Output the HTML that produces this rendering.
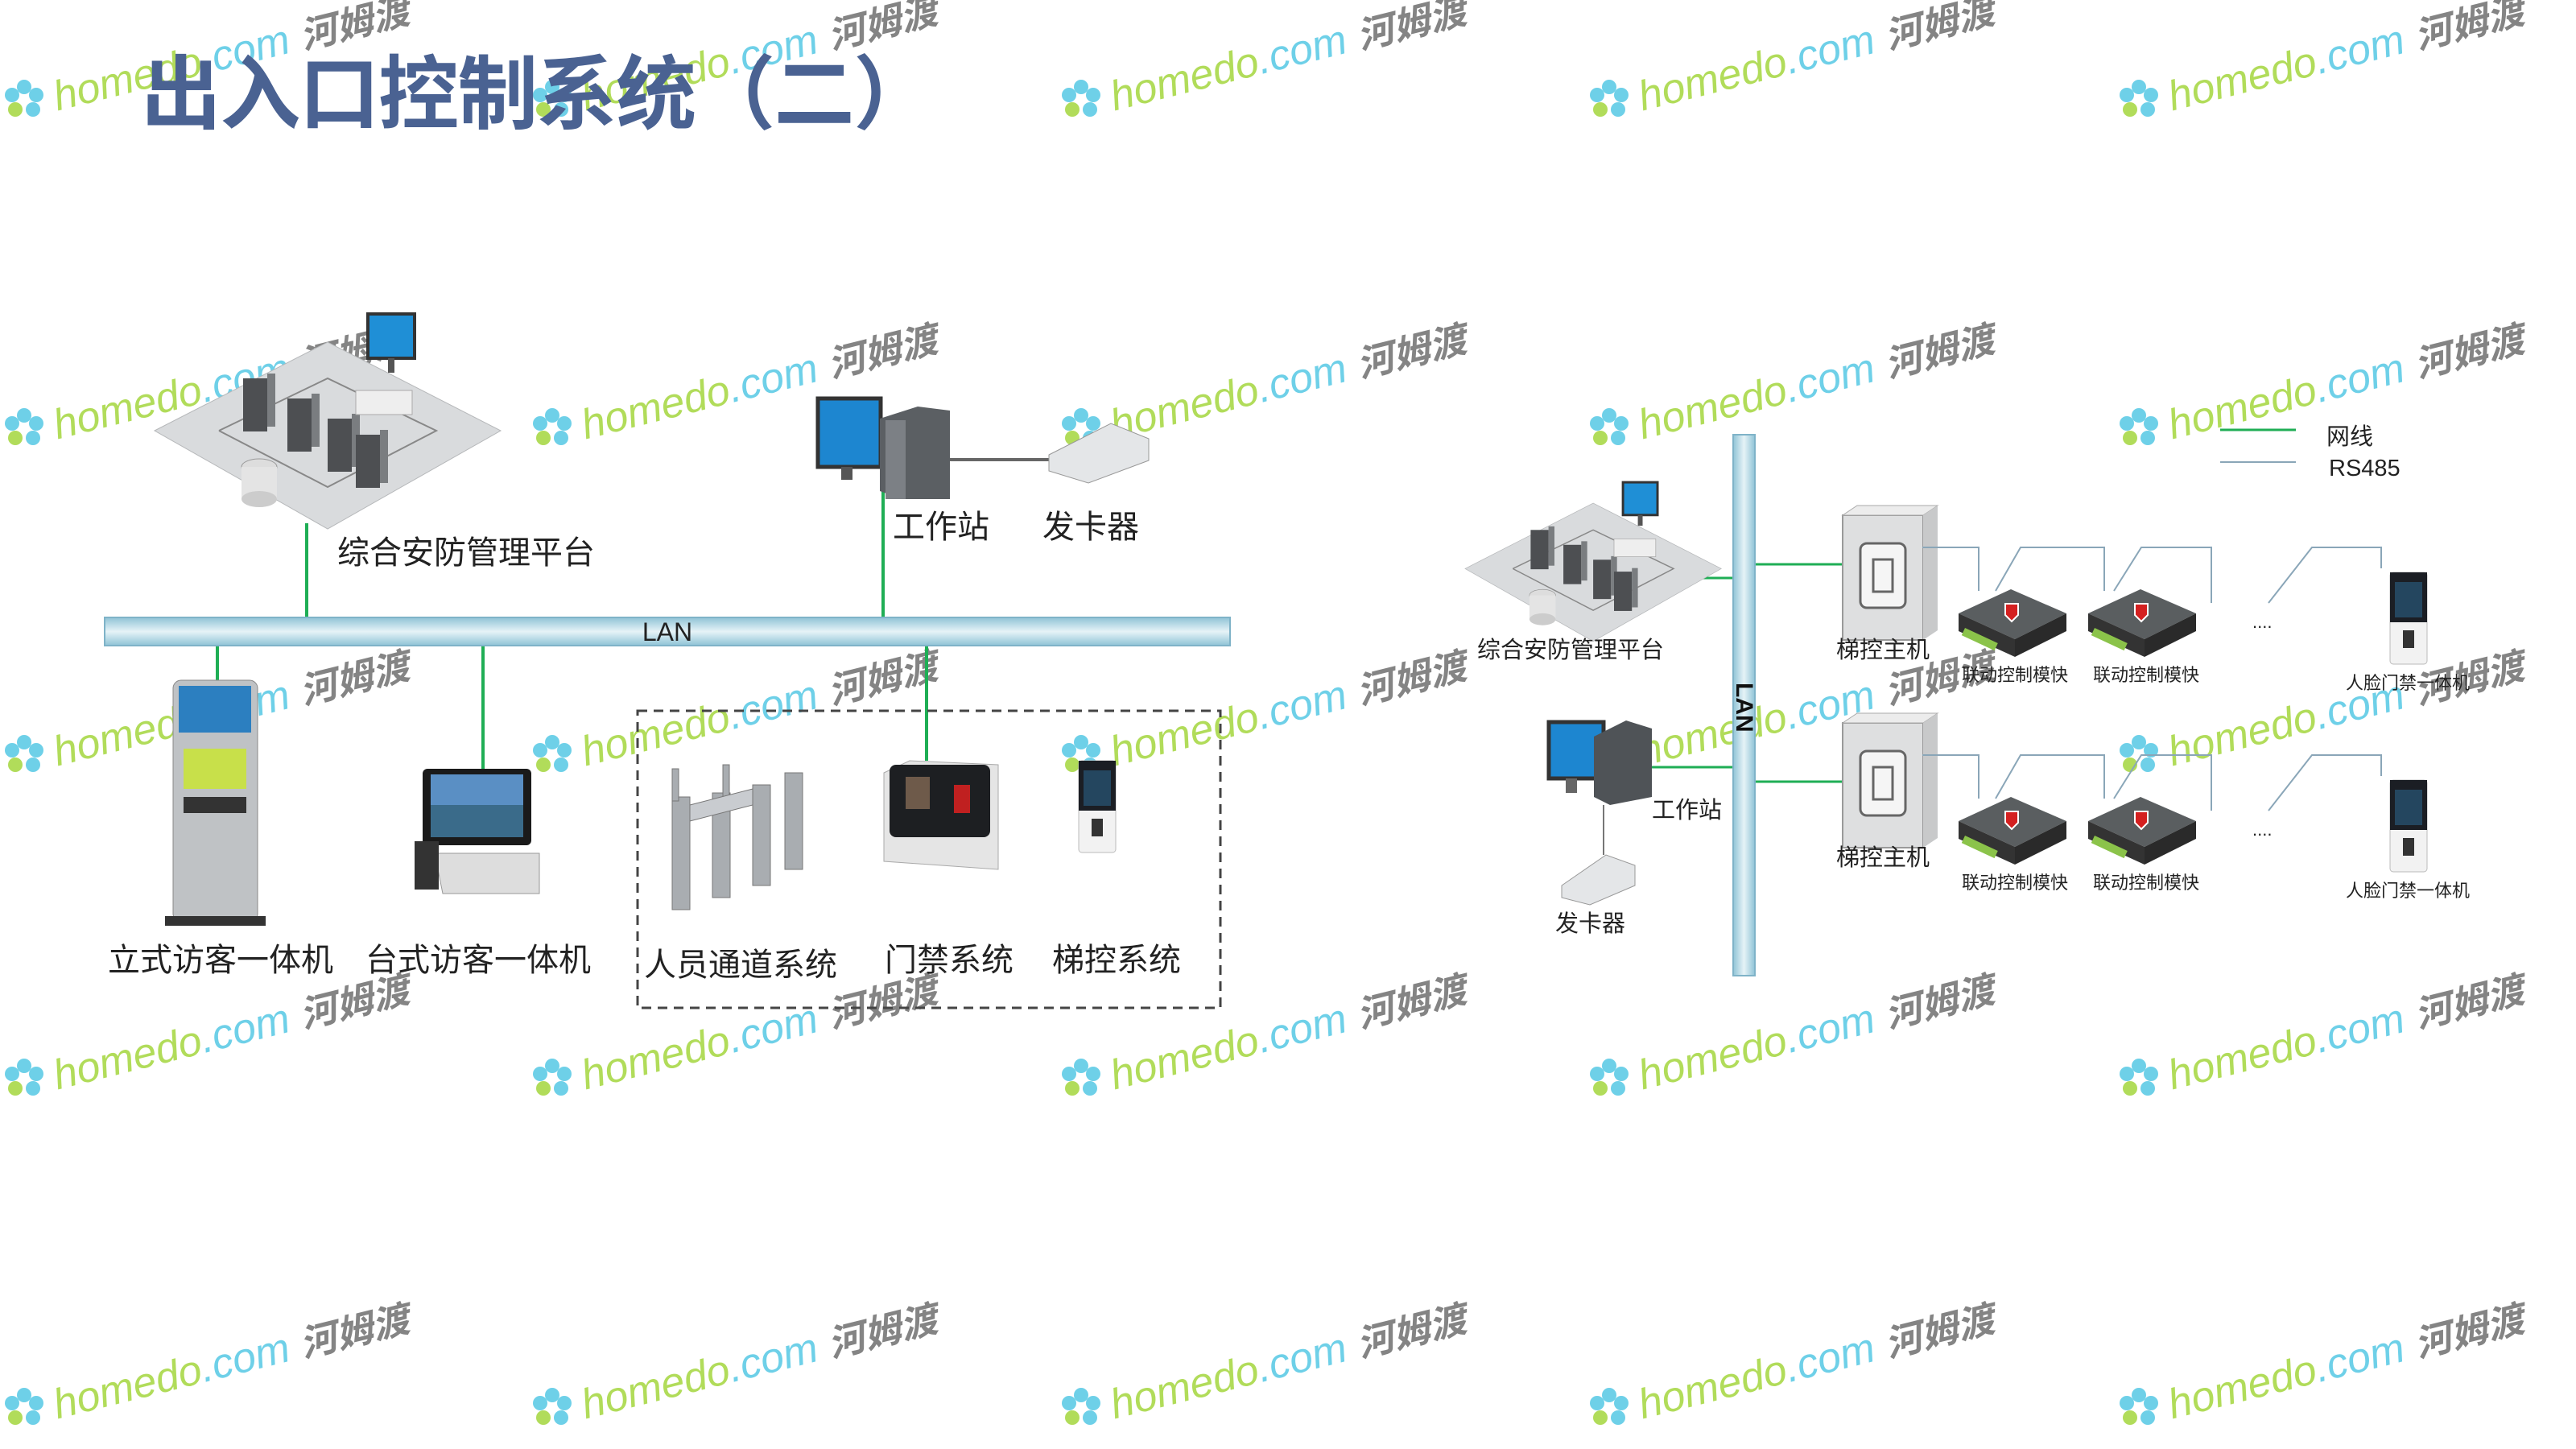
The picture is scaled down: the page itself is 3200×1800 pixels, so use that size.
<!DOCTYPE html>
<html><head><meta charset="utf-8">
<style>
html,body{margin:0;padding:0;background:#fff;}
body{width:3200px;height:1800px;overflow:hidden;position:relative;}
svg{position:absolute;left:0;top:0;}
text{font-family:"Liberation Sans","Noto Sans CJK SC",sans-serif;}
</style></head>
<body>
<svg width="3200" height="1800" viewBox="0 0 3200 1800" xmlns="http://www.w3.org/2000/svg">
<defs>
<linearGradient id="bar" x1="0" y1="0" x2="0" y2="1">
<stop offset="0" stop-color="#8fc3d6"/><stop offset="0.5" stop-color="#e6f3f7"/><stop offset="1" stop-color="#8fc3d6"/>
</linearGradient>
<linearGradient id="vbar" x1="0" y1="0" x2="1" y2="0">
<stop offset="0" stop-color="#8fc3d6"/><stop offset="0.5" stop-color="#e6f3f7"/><stop offset="1" stop-color="#8fc3d6"/>
</linearGradient>
<g id="wm">
<g transform="translate(30,0)">
<circle cx="0" cy="-16" r="9" fill="#5ecbe6"/><circle cx="15" cy="-6" r="9" fill="#5ecbe6"/><circle cx="11" cy="12" r="9" fill="#5ecbe6"/><circle cx="-11" cy="12" r="9" fill="#a9d848"/><circle cx="-15" cy="-6" r="9" fill="#5ecbe6"/><circle cx="0" cy="0" r="5" fill="#fff"/>
</g>
<text x="68" y="14" font-size="52" font-style="italic" fill="#a9d848" transform="rotate(-14 68 0)">homedo<tspan fill="#5ecbe6">.com</tspan> <tspan fill="#777" font-weight="bold" font-size="46">河姆渡</tspan></text>
</g>
<g id="server"><rect x="0" y="0" width="30" height="66" fill="#4d4f52"/><rect x="30" y="-6" width="10" height="66" fill="#7a7d80"/></g>
<g id="platform">
<polygon points="0,110 215,0 430,110 215,232" fill="#d9dbdd" stroke="#b6b8ba"/>
<polyline points="80,110 215,45 350,110 215,180 80,110" fill="none" stroke="#888" stroke-width="2"/>
<use href="#server" x="110" y="45"/><use href="#server" x="165" y="70"/><use href="#server" x="215" y="95"/><use href="#server" x="250" y="115"/>
<ellipse cx="130" cy="155" rx="22" ry="10" fill="#ddd" stroke="#999"/><rect x="108" y="155" width="44" height="40" fill="#e4e4e4"/><ellipse cx="130" cy="195" rx="22" ry="10" fill="#ccc"/>
<rect x="250" y="60" width="70" height="30" fill="#eee" stroke="#aaa"/>
<rect x="265" y="-35" width="58" height="55" fill="#1f8fd6" stroke="#333" stroke-width="4"/><rect x="290" y="20" width="8" height="18" fill="#555"/>
</g>
<g id="lift"><rect x="0" y="0" width="100" height="155" fill="#dedfe0" stroke="#9a9a9a" stroke-width="2"/><polygon points="0,0 18,-12 118,-12 100,0" fill="#ececec" stroke="#aaa"/><polygon points="100,0 118,-12 118,143 100,155" fill="#c8c9ca"/><rect x="22" y="35" width="56" height="80" rx="8" fill="#f5f5f5" stroke="#666" stroke-width="3"/><rect x="38" y="55" width="24" height="40" fill="none" stroke="#666" stroke-width="3"/></g>
<g id="mod"><polygon points="0,30 65,0 134,30 70,62" fill="#5a5e60"/><polygon points="0,30 70,62 70,84 0,52" fill="#333"/><polygon points="70,62 134,30 134,52 70,84" fill="#2a2a2a"/><rect x="8" y="48" width="45" height="10" fill="#8bc34a" transform="rotate(25 8 48)"/><path d="M58 18 h16 v14 l-8 8 l-8 -8z" fill="#d42020" stroke="#fff" stroke-width="2"/></g>
<g id="face"><rect x="0" y="0" width="46" height="114" rx="4" fill="#f2f2f2" stroke="#bbb"/><rect x="0" y="0" width="46" height="62" fill="#1b1e24"/><rect x="6" y="12" width="34" height="44" fill="#24465f"/><rect x="16" y="72" width="14" height="22" fill="#333"/></g>
</defs>

<!-- watermarks -->
<g opacity="0.9">
<use href="#wm" x="0" y="124"/><use href="#wm" x="656" y="124"/><use href="#wm" x="1313" y="124"/><use href="#wm" x="1969" y="124"/><use href="#wm" x="2627" y="124"/>
<use href="#wm" x="0" y="532"/><use href="#wm" x="656" y="532"/><use href="#wm" x="1313" y="532"/><use href="#wm" x="1969" y="532"/><use href="#wm" x="2627" y="532"/>
<use href="#wm" x="0" y="938"/><use href="#wm" x="656" y="938"/><use href="#wm" x="1313" y="938"/><use href="#wm" x="1969" y="938"/><use href="#wm" x="2627" y="938"/>
<use href="#wm" x="0" y="1340"/><use href="#wm" x="656" y="1340"/><use href="#wm" x="1313" y="1340"/><use href="#wm" x="1969" y="1340"/><use href="#wm" x="2627" y="1340"/>
<use href="#wm" x="0" y="1749"/><use href="#wm" x="656" y="1749"/><use href="#wm" x="1313" y="1749"/><use href="#wm" x="1969" y="1749"/><use href="#wm" x="2627" y="1749"/>
</g>

<!-- title -->
<text x="175" y="152" font-size="100" font-weight="bold" fill="#4a6292" textLength="985">出入口控制系统（二）</text>

<!-- LEFT DIAGRAM -->
<g stroke="#1fae55" stroke-width="4">
<line x1="381" y1="650" x2="381" y2="767"/>
<line x1="1097" y1="610" x2="1097" y2="767"/>
<line x1="270" y1="802" x2="270" y2="848"/>
<line x1="600" y1="802" x2="600" y2="955"/>
<line x1="1151" y1="802" x2="1151" y2="945"/>
</g>
<rect x="130" y="767" width="1398" height="35" fill="url(#bar)" stroke="#7fb3c8" stroke-width="2"/>
<text x="829" y="796" font-size="32" text-anchor="middle" font-family="Liberation Serif,serif" fill="#222">LAN</text>

<use href="#platform" x="192" y="425"/>
<text x="419" y="700" font-size="40" fill="#222">综合安防管理平台</text>

<!-- workstation -->
<rect x="1016" y="495" width="78" height="85" fill="#1d86d0" stroke="#333" stroke-width="5"/>
<rect x="1045" y="580" width="14" height="16" fill="#555"/>
<polygon points="1093,520 1140,505 1180,510 1180,620 1120,620 1093,610" fill="#5b5f63"/>
<rect x="1100" y="522" width="25" height="98" fill="#7c8085"/>
<line x1="1180" y1="571" x2="1303" y2="571" stroke="#666" stroke-width="4"/>
<polygon points="1303,565 1380,526 1427,545 1427,572 1352,600 1303,585" fill="#e4e6e8" stroke="#999"/>
<text x="1109" y="668" font-size="40" fill="#222">工作站</text>
<text x="1295" y="668" font-size="40" fill="#222">发卡器</text>

<!-- kiosk -->
<rect x="215" y="845" width="105" height="300" rx="10" fill="#bfc2c5" stroke="#888"/>
<rect x="222" y="852" width="90" height="58" fill="#2c7fc0"/>
<rect x="228" y="930" width="78" height="50" fill="#c8e04a"/>
<rect x="228" y="990" width="78" height="20" fill="#333"/>
<rect x="205" y="1138" width="125" height="12" fill="#333"/>
<!-- desktop -->
<rect x="525" y="955" width="135" height="95" rx="6" fill="#1a1a1a"/>
<rect x="535" y="962" width="115" height="78" fill="#5a8fc4"/>
<rect x="535" y="1000" width="115" height="40" fill="#3a6b8a"/>
<polygon points="540,1060 670,1060 670,1110 550,1110" fill="#ddd" stroke="#999"/>
<rect x="515" y="1045" width="30" height="60" fill="#333"/>
<!-- dashed group -->
<rect x="792" y="883" width="724" height="369" fill="none" stroke="#444" stroke-width="3" stroke-dasharray="12,8"/>
<g fill="#a9adb1" stroke="#777">
<rect x="835" y="990" width="22" height="140"/><rect x="835" y="955" width="8" height="40"/>
<rect x="885" y="985" width="22" height="130"/><rect x="898" y="950" width="8" height="40"/>
<rect x="935" y="975" width="22" height="125"/><rect x="975" y="960" width="22" height="120"/>
<polygon points="857,1000 935,980 935,1000 857,1020" fill="#c9ccd0"/>
</g>
<polygon points="1098,960 1130,945 1240,950 1240,1080 1098,1070" fill="#e5e5e5" stroke="#aaa"/>
<rect x="1105" y="950" width="125" height="90" rx="8" fill="#1d1f22"/>
<rect x="1125" y="965" width="30" height="40" fill="#6e5a4a"/><rect x="1185" y="975" width="20" height="35" fill="#c02020"/>
<use href="#face" x="1340" y="945"/>
<text x="134" y="1206" font-size="40" fill="#222">立式访客一体机</text>
<text x="454" y="1206" font-size="40" fill="#222">台式访客一体机</text>
<text x="800" y="1212" font-size="40" fill="#222">人员通道系统</text>
<text x="1099" y="1206" font-size="40" fill="#222">门禁系统</text>
<text x="1307" y="1206" font-size="40" fill="#222">梯控系统</text>

<!-- RIGHT DIAGRAM -->
<g stroke="#1fae55" stroke-width="3">
<line x1="2070" y1="718" x2="2153" y2="718"/>
<line x1="2180" y1="701" x2="2289" y2="701"/>
<line x1="2031" y1="953" x2="2153" y2="953"/>
<line x1="2180" y1="971" x2="2289" y2="971"/>
<line x1="2758" y1="534" x2="2852" y2="534"/>
</g>
<line x1="2758" y1="574" x2="2852" y2="574" stroke="#8aa6b8" stroke-width="2"/>
<text x="2890" y="552" font-size="29" fill="#222">网线</text>
<text x="2893" y="591" font-size="29" fill="#222">RS485</text>
<rect x="2153" y="540" width="27" height="672" fill="url(#vbar)" stroke="#7fb3c8" stroke-width="2"/>
<text x="0" y="0" font-size="30" font-weight="bold" fill="#111" transform="translate(2157,848) rotate(90)">LAN</text>

<g transform="translate(1820,625) scale(0.74)"><use href="#platform"/></g>
<text x="1835" y="817" font-size="29" fill="#222">综合安防管理平台</text>

<!-- right workstation -->
<rect x="1924" y="897" width="68" height="70" fill="#1d86d0" stroke="#333" stroke-width="5"/>
<rect x="1945" y="967" width="14" height="18" fill="#666"/>
<polygon points="1980,915 2020,895 2052,905 2052,990 2000,1000 1980,990" fill="#4f5357"/>
<line x1="1992" y1="1000" x2="1992" y2="1062" stroke="#777" stroke-width="2"/>
<polygon points="1940,1100 1995,1062 2031,1075 2031,1100 1975,1124 1940,1115" fill="#e4e6e8" stroke="#999"/>
<text x="2052" y="1016" font-size="29" fill="#222">工作站</text>
<text x="1932" y="1157" font-size="29" fill="#222">发卡器</text>

<!-- rows -->
<g id="row1">
<use href="#lift" x="2289" y="640"/>
<text x="2281" y="817" font-size="29" fill="#222">梯控主机</text>
<polyline points="2388,680 2458,680 2458,734" fill="none" stroke="#8aa6b8" stroke-width="2"/>
<polyline points="2479,734 2510,680 2614,680 2614,734" fill="none" stroke="#8aa6b8" stroke-width="2"/>
<polyline points="2626,734 2660,680 2747,680 2747,749" fill="none" stroke="#8aa6b8" stroke-width="2"/>
<polyline points="2818,749 2872,680 2958,680 2958,706" fill="none" stroke="#8aa6b8" stroke-width="2"/>
<use href="#mod" x="2433" y="732"/>
<use href="#mod" x="2594" y="732"/>
<text x="2437" y="846" font-size="22" fill="#222">联动控制模快</text>
<text x="2600" y="846" font-size="22" fill="#222">联动控制模快</text>
<text x="2798" y="780" font-size="22" fill="#222">....</text>
<use href="#face" x="2969" y="711"/>
<text x="2914" y="856" font-size="22" fill="#222">人脸门禁一体机</text>
</g>
<use href="#row1" x="0" y="258"/>
</svg>
</body></html>
